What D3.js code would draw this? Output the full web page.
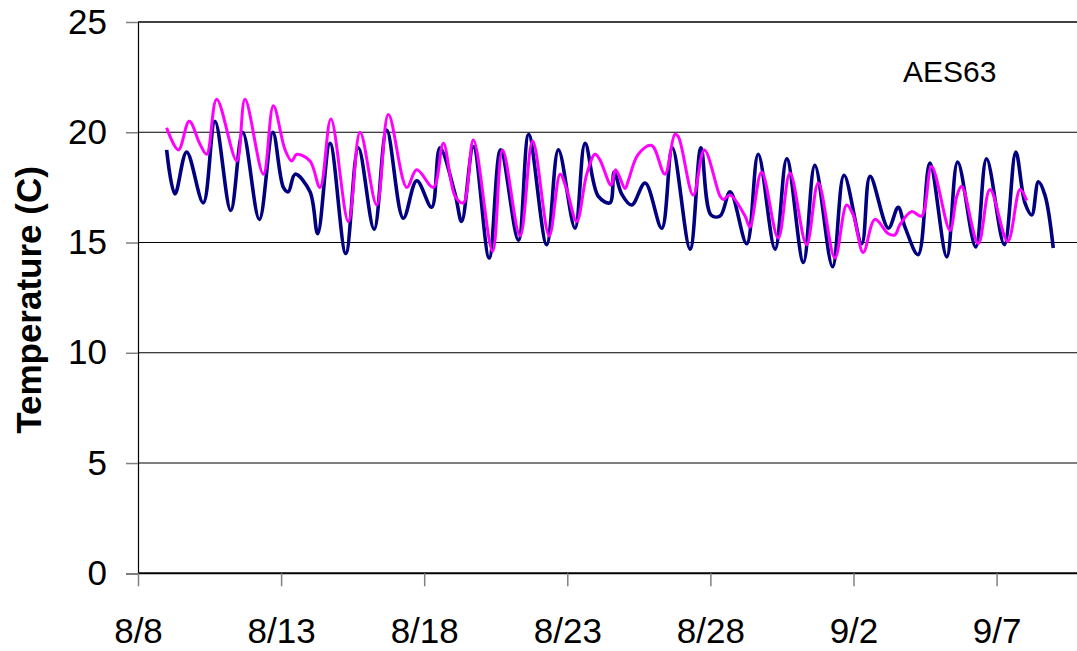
<!DOCTYPE html>
<html><head><meta charset="utf-8">
<script src="https://cdn.jsdelivr.net/npm/d3@7"></script>
<style>
html,body{margin:0;padding:0;background:#fff;}
svg{display:block;font-family:"Liberation Sans",Arial,sans-serif;}
</style></head>
<body><svg id="c" width="1077" height="651"></svg>
<script>
// x values: days after 8/8
const tickDays = [0,5,10,15,20,25,30];
const tickLabels = ["8/8","8/13","8/18","8/23","8/28","9/2","9/7"];
const yTicks = [0,5,10,15,20,25];

const navyDays = [1.00,1.29,1.70,2.28,2.69,3.24,3.66,4.24,4.71,5.08,5.25,5.49,6.01,6.28,6.71,7.26,7.70,8.25,8.69,9.27,9.74,10.26,10.55,11.08,11.31,11.72,12.27,12.67,13.29,13.65,14.28,14.69,15.27,15.62,16.08,16.49,16.64,16.90,17.25,17.72,18.30,18.67,19.29,19.67,20.02,20.34,20.69,21.27,21.67,22.26,22.67,23.25,23.65,24.27,24.67,25.29,25.58,26.22,26.56,26.80,27.26,27.67,28.26,28.64,29.27,29.65,30.27,30.67,30.99,31.23,31.46,31.69,31.98];
const navyTemps = [19.2,17.2,19.1,16.8,20.5,16.45,20.0,16.05,20.0,17.5,17.3,18.1,17.3,15.4,19.5,14.5,19.3,15.6,20.1,16.1,17.8,16.6,19.3,17.2,15.95,19.35,14.3,19.2,15.1,19.9,14.9,19.2,15.65,19.5,17.1,16.8,18.2,17.2,16.7,17.7,15.65,19.3,14.7,19.3,16.25,16.2,17.3,14.95,19.0,14.7,18.8,14.1,18.5,13.9,18.05,14.95,18.0,15.65,16.6,15.7,14.45,18.6,14.35,18.65,14.8,18.8,14.9,19.1,16.8,16.25,17.75,17.15,14.75];

const pinkDays = [1.00,1.41,1.79,2.17,2.40,2.75,3.45,3.74,4.38,4.73,5.14,5.37,5.55,6.01,6.36,6.74,7.35,7.76,8.34,8.75,9.39,9.74,10.32,10.67,11.08,11.37,11.72,12.39,12.74,13.35,13.79,14.37,14.75,14.98,15.33,15.68,15.97,16.14,16.53,16.69,17.02,17.13,17.48,17.95,18.41,18.76,18.88,19.40,19.79,20.34,20.45,20.69,21.21,21.38,21.79,22.37,22.78,23.36,23.77,24.35,24.76,24.99,25.34,25.75,26.22,26.45,26.62,27.03,27.38,27.73,28.37,28.61,28.78,29.36,29.77,30.39,30.82,31.05];
const pinkTemps = [20.2,19.2,20.5,19.45,19.0,21.5,18.7,21.5,18.1,21.2,19.2,18.7,19.0,18.7,17.5,20.6,15.95,20.0,16.7,20.8,17.5,18.3,17.5,19.5,17.1,16.8,19.65,14.6,19.2,15.3,19.6,15.3,18.1,17.4,15.95,18.1,19.0,18.75,17.6,18.3,17.45,17.8,19.0,19.4,18.1,19.9,19.8,17.15,19.2,17.1,16.95,17.15,16.2,15.7,18.2,15.2,18.15,14.9,17.7,14.3,16.7,16.25,14.55,16.05,15.4,15.35,15.8,16.4,16.2,18.45,15.55,17.1,17.55,14.95,17.4,15.05,17.4,16.9];

const svg = d3.select("#c");
const x = d3.scaleLinear().domain([0, 32.81]).range([138, 1077]);
const y = d3.scaleLinear().domain([0, 25]).range([573.3, 22]);

// gridlines
svg.append("g").selectAll("line").data(yTicks.filter(d=>d>0)).join("line")
  .attr("x1", 138).attr("x2", 1077)
  .attr("y1", d=>y(d)).attr("y2", d=>y(d))
  .attr("stroke", "#000").attr("stroke-width", d=>d===25?1.6:1.1);

// y axis
const yAxis = svg.append("g").attr("transform","translate(138,0)")
  .call(d3.axisLeft(y).tickValues(yTicks).tickSize(12).tickPadding(20).tickFormat(d3.format("d")));
yAxis.select(".domain").attr("stroke","#000").attr("stroke-width",1.2);
yAxis.selectAll(".tick line").attr("stroke","#808080").attr("stroke-width",1.5);
yAxis.selectAll(".tick text").attr("font-size",35).attr("fill","#000")
  .attr("font-family","'Liberation Sans',Arial,sans-serif").attr("x",-31);

// x axis
const xAxis = svg.append("g").attr("transform","translate(0,573.3)")
  .call(d3.axisBottom(x).tickValues(tickDays).tickSize(13).tickPadding(0)
    .tickFormat((d,i)=>tickLabels[i]));
xAxis.select(".domain").attr("stroke","#000").attr("stroke-width",2).attr("d","M138,0H1077");
xAxis.selectAll(".tick line").attr("stroke","#808080").attr("stroke-width",1.5);
xAxis.selectAll(".tick text").attr("font-size",35).attr("fill","#000")
  .attr("font-family","'Liberation Sans',Arial,sans-serif")
  .attr("dy",null).attr("y",70);

// lines
const line = d3.line().x(d=>x(d[0])).y(d=>y(d[1])).curve(d3.curveCatmullRom.alpha(0.5));
const navy = navyDays.map((d,i)=>[d, navyTemps[i]]);
const pink = pinkDays.map((d,i)=>[d, pinkTemps[i]]);
svg.append("path").attr("d", line(navy)).attr("fill","none")
  .attr("stroke","#000080").attr("stroke-width",3.6).attr("stroke-linejoin","round");
svg.append("path").attr("d", line(pink)).attr("fill","none")
  .attr("stroke","#FF00FF").attr("stroke-width",3).attr("stroke-linejoin","round");

// labels
svg.append("text").attr("transform","translate(41,300) rotate(-90)")
  .attr("text-anchor","middle").attr("font-size",35).attr("font-weight","bold")
  .text("Temperature (C)");
svg.append("text").attr("x",903).attr("y",82).attr("font-size",30).text("AES63");
</script></body></html>
